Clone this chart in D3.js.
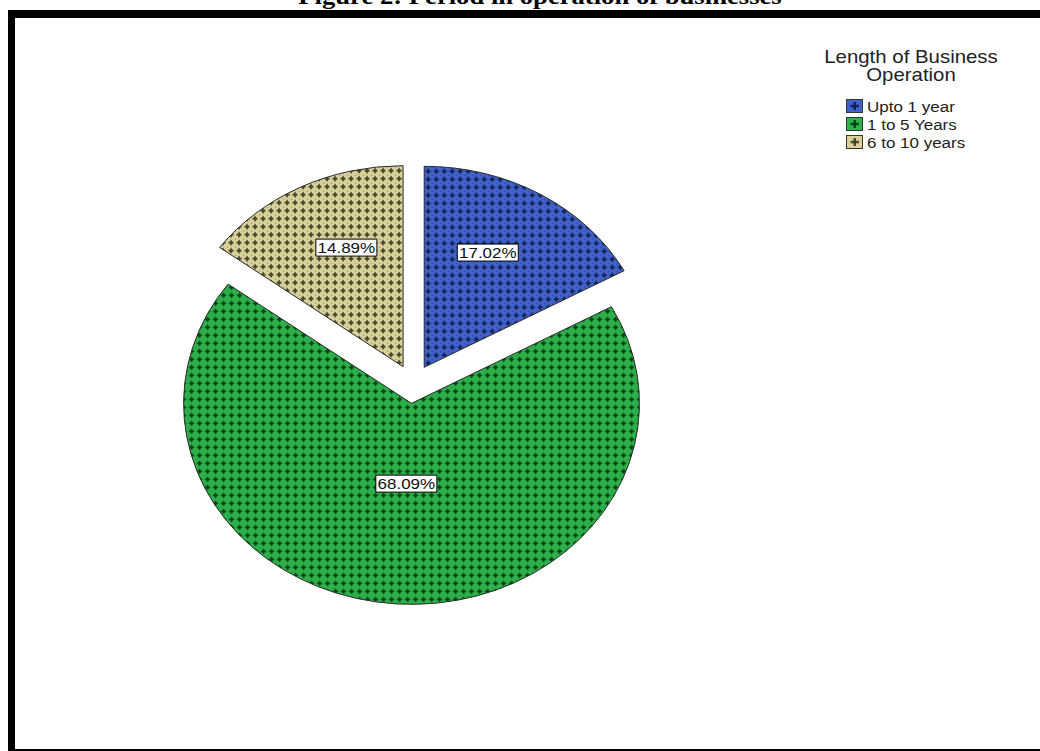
<!DOCTYPE html>
<html>
<head>
<meta charset="utf-8">
<script src="https://cdn.jsdelivr.net/npm/d3@7"></script>
<style>
  html, body { margin: 0; padding: 0; background: #fff; }
  svg { display: block; }
</style>
</head>
<body>
<svg id="chart" width="1040" height="751"></svg>
<script>
// Length of business operation – share of respondents
const categories = ["Upto 1 year", "1 to 5 Years", "6 to 10 years"];
const percents = [17.02, 68.09, 14.89];
const legendTitle = ["Length of Business", "Operation"];
const figureTitle = "Figure 2: Period in operation of businesses";

// fill colours (base, cross) for each category
const baseColors = ["#4062cc", "#2db34b", "#dad19a"];
const crossColors = ["#101a48", "#07340f", "#383824"];

const W = 1040, H = 751;
const svg = d3.select("#chart");
const defs = svg.append("defs");

const SX = 1.134;           // horizontal stretch of the whole plot
const R = 201;              // pie radius (vertical)
const cx = 413, cy = 384;   // pie centre
const explode = 19.4;

// cross-hatch patterns for the wedges
function makePattern(id, base, cross) {
  const p = defs.append("pattern")
    .attr("id", id)
    .attr("patternUnits", "userSpaceOnUse")
    .attr("width", 8).attr("height", 8)
    .attr("patternTransform", `scale(${1 / SX},1)`);
  p.append("rect").attr("width", 8).attr("height", 8).attr("fill", base);
  const c = p.append("g").attr("fill", cross).attr("opacity", 0.9);
  c.append("rect").attr("x", 3).attr("y", 1.5).attr("width", 2).attr("height", 5);
  c.append("rect").attr("x", 1.5).attr("y", 3).attr("width", 5).attr("height", 2);
  p.append("rect").attr("x", 0).attr("y", 0).attr("width", 1).attr("height", 1)
    .attr("fill", cross).attr("opacity", 0.55);
}
categories.forEach((c, i) => makePattern("pat" + i, baseColors[i], crossColors[i]));

// title (partially clipped at the top of the page)
const titleX = 540;
svg.append("text")
  .attr("x", 0).attr("y", 0)
  .attr("text-anchor", "middle")
  .attr("font-family", "Liberation Serif, Times New Roman, serif")
  .attr("font-weight", "bold")
  .attr("font-size", 23.5)
  .attr("transform", `translate(${titleX},4) scale(${SX},1)`)
  .text(figureTitle);

// frame
svg.append("rect").attr("x", 8).attr("y", 10).attr("width", W).attr("height", 8).attr("fill", "#000");
svg.append("rect").attr("x", 8).attr("y", 10).attr("width", 7).attr("height", H).attr("fill", "#000");
svg.append("rect").attr("x", 8).attr("y", 749).attr("width", W).attr("height", 2).attr("fill", "#000");

// pie
const pie = d3.pie().sort(null).value(d => d);
const arcs = pie(percents);
const arc = d3.arc().innerRadius(0).outerRadius(R);

const g = svg.append("g").attr("transform", `translate(${cx},${cy}) scale(${SX},1)`);

function midAngle(d) { return (d.startAngle + d.endAngle) / 2; }
function offset(d) {
  const a = midAngle(d);
  return [explode * Math.sin(a), -explode * Math.cos(a)];
}

g.selectAll("path.slice")
  .data(arcs)
  .join("path")
  .attr("class", "slice")
  .attr("d", arc)
  .attr("transform", d => `translate(${offset(d)})`)
  .attr("fill", (d, i) => `url(#pat${i})`)
  .attr("stroke", "#2a2a2a")
  .attr("stroke-width", 1)
  .attr("vector-effect", "non-scaling-stroke");

// value labels: wedge area centroid, nudged a little toward the vertical
function labelRadius(d) {
  const half = (d.endAngle - d.startAngle) / 2;
  const c = 2 * R * Math.sin(half) / (3 * half);
  return Math.max(c, 0.4 * R);
}
function labelAngle(d) {
  const a = midAngle(d);
  const ref = Math.round(a / Math.PI) * Math.PI;
  return ref + (a - ref) * 0.85;
}
const fmt = v => v.toFixed(2) + "%";
const labels = svg.append("g");
arcs.forEach((d, i) => {
  const a = labelAngle(d);
  const o = offset(d);
  const r = labelRadius(d);
  const x = cx + SX * (o[0] + r * Math.sin(a));
  const y = cy + o[1] - r * Math.cos(a);
  const lg = labels.append("g").attr("transform", `translate(${x},${y}) scale(${SX},1)`);
  const t = lg.append("text")
    .attr("text-anchor", "middle")
    .attr("dy", "0.36em")
    .attr("font-family", "Liberation Sans, Arial, sans-serif")
    .attr("font-size", 15)
    .attr("fill", "#111")
    .text(fmt(percents[i]));
  const w = t.node().getComputedTextLength();
  lg.insert("rect", "text")
    .attr("x", -w / 2 - 1.5).attr("y", -8.5)
    .attr("width", w + 3).attr("height", 17)
    .attr("fill", "#fff")
    .attr("stroke", "#000")
    .attr("stroke-width", 1)
    .attr("vector-effect", "non-scaling-stroke");
});

// legend
const lgx = 911;
const leg = svg.append("g");
legendTitle.forEach((s, i) => {
  leg.append("text")
    .attr("text-anchor", "middle")
    .attr("font-family", "Liberation Sans, Arial, sans-serif")
    .attr("font-size", 18)
    .attr("fill", "#222")
    .attr("transform", `translate(${lgx},${63 + i * 18}) scale(${SX},1)`)
    .text(s);
});
categories.forEach((c, i) => {
  const by = 112 + i * 18;
  const sw = leg.append("g").attr("transform", `translate(846.5,${by - 12.5})`);
  sw.append("rect")
    .attr("width", 16).attr("height", 13)
    .attr("fill", baseColors[i])
    .attr("stroke", "#333").attr("stroke-width", 1);
  sw.append("rect").attr("x", 7).attr("y", 2.5).attr("width", 2.5).attr("height", 8)
    .attr("fill", crossColors[i]).attr("opacity", 0.85);
  sw.append("rect").attr("x", 4).attr("y", 5.3).attr("width", 8.5).attr("height", 2.5)
    .attr("fill", crossColors[i]).attr("opacity", 0.85);
  leg.append("text")
    .attr("font-family", "Liberation Sans, Arial, sans-serif")
    .attr("font-size", 15)
    .attr("fill", "#222")
    .attr("transform", `translate(867,${by}) scale(${SX},1)`)
    .text(c);
});
</script>
</body>
</html>
